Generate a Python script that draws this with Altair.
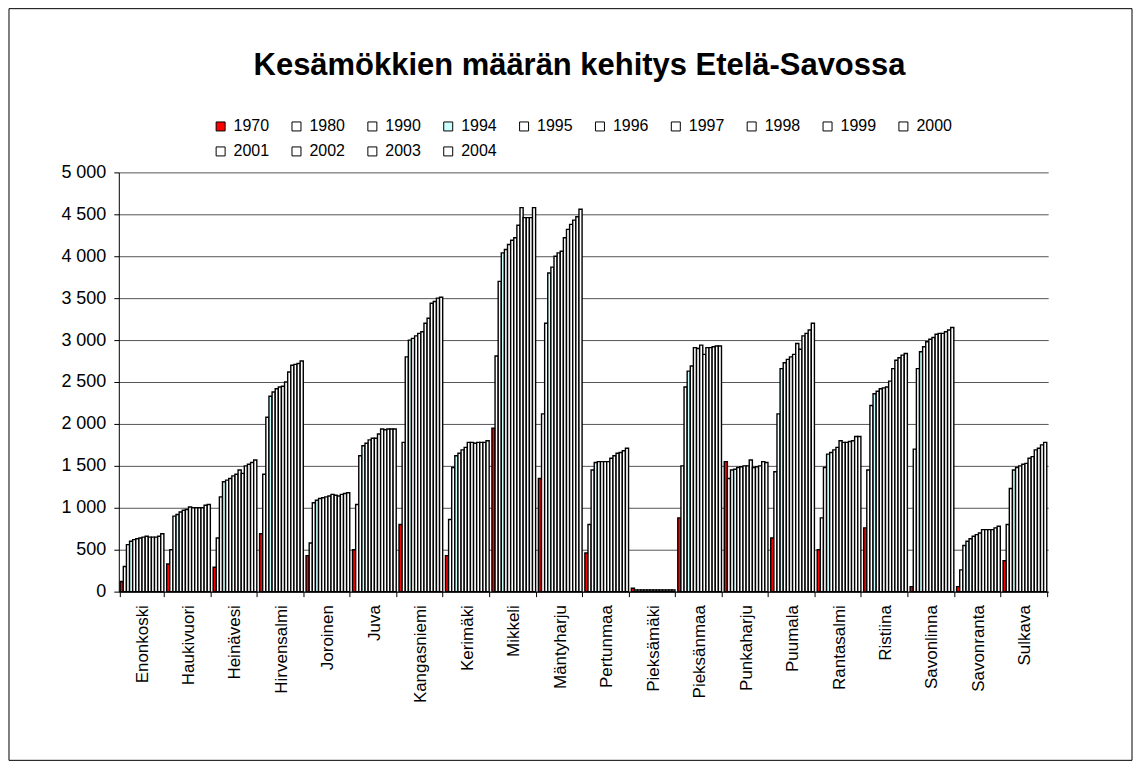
import altair as alt
import pandas as pd

kunnat = ["Enonkoski", "Haukivuori", "Heinävesi", "Hirvensalmi", "Joroinen", "Juva",
          "Kangasniemi", "Kerimäki", "Mikkeli", "Mäntyharju", "Pertunmaa", "Pieksämäki",
          "Pieksänmaa", "Punkaharju", "Puumala", "Rantasalmi", "Ristiina", "Savonlinna",
          "Savonranta", "Sulkava"]
vuodet = ["1970", "1980", "1990", "1994", "1995", "1996", "1997", "1998", "1999",
          "2000", "2001", "2002", "2003", "2004"]

enonkoski = [120, 300, 560, 600, 620, 630, 640, 650, 660, 650, 650, 650, 660, 690]
haukivuori = [330, 500, 900, 920, 950, 970, 980, 1010, 1000, 1000, 1000, 1000, 1030, 1040]
heinavesi = [290, 640, 1130, 1310, 1330, 1350, 1380, 1400, 1450, 1410, 1500, 1520, 1540, 1570]
hirvensalmi = [690, 1400, 2080, 2330, 2380, 2420, 2440, 2450, 2500, 2620, 2700, 2710, 2720, 2750]
joroinen = [430, 580, 1060, 1090, 1110, 1120, 1130, 1140, 1160, 1150, 1140, 1160, 1170, 1180]
juva = [500, 1040, 1620, 1740, 1770, 1810, 1830, 1830, 1880, 1940, 1930, 1940, 1940, 1940]
kangasniemi = [800, 1780, 2800, 3000, 3020, 3050, 3080, 3100, 3200, 3260, 3440, 3460, 3500, 3510]
kerimaki = [430, 860, 1480, 1620, 1650, 1690, 1720, 1780, 1780, 1770, 1780, 1780, 1780, 1800]
mikkeli = [1950, 2810, 3700, 4040, 4080, 4140, 4190, 4220, 4370, 4580, 4460, 4460, 4460, 4580]
mantyharju = [1350, 2120, 3200, 3800, 3870, 4000, 4040, 4060, 4220, 4320, 4380, 4430, 4470, 4560]
pertunmaa = [460, 800, 1450, 1540, 1550, 1550, 1550, 1550, 1590, 1620, 1650, 1660, 1680, 1710]
pieksamaki = [40, 20, 20, 20, 20, 20, 20, 20, 20, 20, 20, 20, 20, 20]
pieksanmaa = [880, 1500, 2440, 2630, 2690, 2910, 2900, 2940, 2830, 2910, 2910, 2920, 2930, 2930]
punkaharju = [1550, 1350, 1450, 1460, 1480, 1490, 1500, 1500, 1570, 1480, 1490, 1500, 1550, 1540]
puumala = [640, 1430, 2120, 2660, 2730, 2770, 2800, 2830, 2960, 2890, 3050, 3080, 3120, 3200]
rantasalmi = [500, 880, 1480, 1640, 1660, 1690, 1720, 1800, 1780, 1780, 1790, 1800, 1850, 1850]
ristiina = [760, 1450, 2220, 2360, 2390, 2420, 2430, 2440, 2510, 2660, 2760, 2790, 2820, 2840]
savonlinna = [60, 1700, 2660, 2860, 2920, 2980, 3010, 3030, 3070, 3080, 3080, 3100, 3120, 3150]
savonranta = [60, 260, 550, 600, 630, 660, 680, 700, 740, 740, 740, 740, 760, 780]
sulkava = [370, 800, 1230, 1450, 1480, 1500, 1520, 1530, 1590, 1610, 1690, 1710, 1750, 1780]

arvot = [enonkoski, haukivuori, heinavesi, hirvensalmi, joroinen, juva, kangasniemi,
         kerimaki, mikkeli, mantyharju, pertunmaa, pieksamaki, pieksanmaa, punkaharju,
         puumala, rantasalmi, ristiina, savonlinna, savonranta, sulkava]

varit = ["#FF0000", "#FFFFFF", "#FFFFFF", "#CCFFFF", "#FFFFFF", "#FFFFFF", "#FFFFFF",
         "#FFFFFF", "#FFFFFF", "#FFFFFF", "#FFFFFF", "#FFFFFF", "#FFFFFF", "#FFFFFF"]

rows = []
for k, vals in zip(kunnat, arvot):
    for v, a in zip(vuodet, vals):
        rows.append({"kunta": k, "vuosi": v, "maara": a})
df = pd.DataFrame(rows)

FONT = "Liberation Sans"

bars = alt.Chart(df).mark_bar(stroke="black", strokeWidth=1.4, opacity=1).encode(
    x=alt.X("kunta:N", sort=kunnat,
            scale=alt.Scale(paddingInner=0.06, paddingOuter=0.03),
            axis=alt.Axis(title=None, labelAngle=-90, labelFontSize=17, labelFont=FONT,
                          labelColor="black", tickBand="extent", tickSize=5,
                          tickColor="black", domainColor="black", labelPadding=8,
                          grid=False)),
    xOffset=alt.XOffset("vuosi:N", sort=vuodet,
                        scale=alt.Scale(paddingInner=0, paddingOuter=0)),
    y=alt.Y("maara:Q", scale=alt.Scale(domain=[0, 5000], nice=False),
            axis=alt.Axis(title=None, values=list(range(0, 5001, 500)),
                          labelExpr="replace(format(datum.value, ','), ',', ' ')",
                          labelFontSize=18, labelFont=FONT, labelColor="black",
                          tickSize=5, tickColor="black", domainColor="black",
                          grid=True, gridColor="#555555", labelPadding=8)),
    color=alt.Color("vuosi:N", sort=vuodet,
                    scale=alt.Scale(domain=vuodet, range=varit),
                    legend=alt.Legend(title=None, orient="none", legendX=94, legendY=-54,
                                      direction="horizontal", columns=10,
                                      symbolType="square", symbolSize=81,
                                      symbolStrokeColor="black", symbolStrokeWidth=1,
                                      labelFontSize=16, labelFont=FONT, labelColor="black",
                                      labelOffset=5, columnPadding=19, rowPadding=9))
)

frame = alt.Chart(pd.DataFrame({"f": [0]})).mark_rect(
    fill="transparent", stroke="black", strokeWidth=1
).encode(x=alt.value(-110), x2=alt.value(1015), y=alt.value(-164), y2=alt.value(589))

chart = alt.layer(frame, bars).properties(
    width=931, height=420,
    autosize=alt.AutoSizeParams(type="none"),
    padding={"left": 111, "top": 164, "right": 85, "bottom": 169},
    title=alt.TitleParams("Kesämökkien määrän kehitys Etelä-Savossa", fontSize=31,
                          font=FONT, fontWeight="bold", color="black", anchor="middle",
                          frame="group", baseline="alphabetic", offset=-98, dx=-4),
    background="white",
).configure_view(strokeWidth=0)

chart.save("out.html", embed_options={"renderer": "svg", "actions": False})
